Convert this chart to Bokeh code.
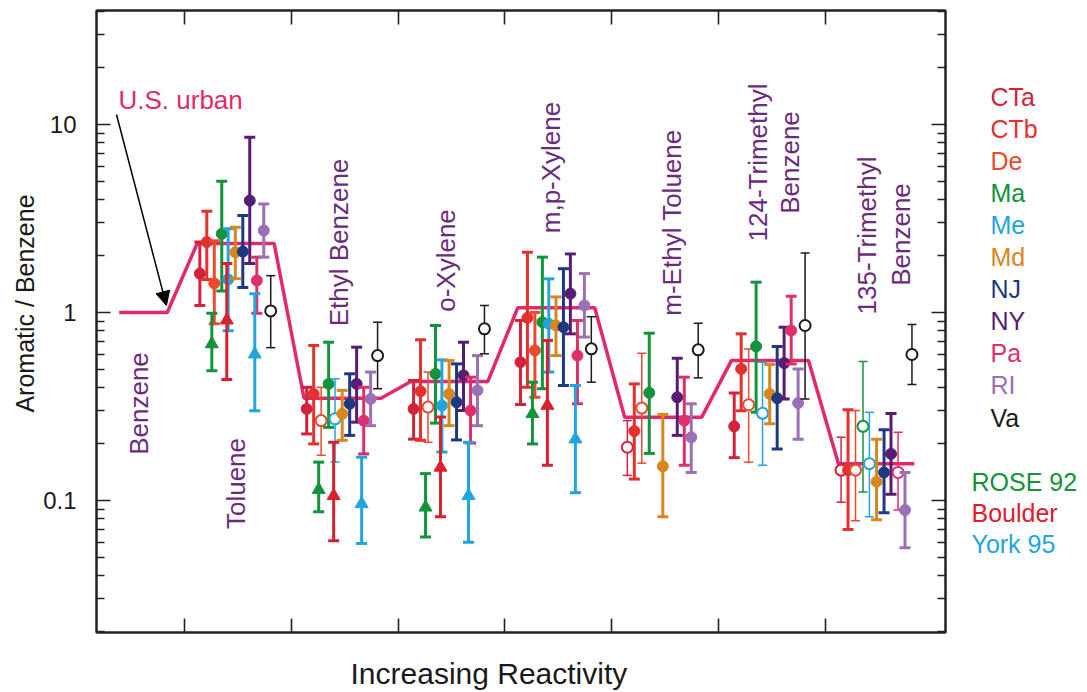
import math
from bokeh.plotting import figure
from bokeh.layouts import row, column
from bokeh.core.properties import value
from bokeh.models import (Range1d, FixedTicker, LinearAxis, LogAxis, Label,
                          Arrow, NormalHead, ColumnDataSource)
from bokeh.embed import file_html
from bokeh.resources import INLINE

# ---------------- data ----------------
groups = ["Benzene", "Toluene", "Ethyl Benzene", "o-Xylene", "m,p-Xylene",
          "m-Ethyl Toluene", "124-Trimethyl Benzene", "135-Trimethyl Benzene"]
urban = [1.0, 2.33, 0.35, 0.43, 1.06, 0.277, 0.556, 0.157]

# values for groups Toluene ... 135-Trimethyl Benzene (7 groups)
CTa_val = [1.61, 0.307, 0.307, 0.544, 0.192, 0.248, 0.145]
CTa_lo = [1.09, 0.226, 0.212, 0.324, 0.136, 0.169, 0.098]
CTa_hi = [2.37, 0.40, 0.435, 0.907, 0.266, 0.373, 0.217]
CTa_open = [0, 0, 0, 0, 1, 0, 1]

CTb_val = [2.37, 0.369, 0.381, 0.937, 0.234, 0.501, 0.145]
CTb_lo = [1.5, 0.20, 0.209, 0.40, 0.13, 0.30, 0.07]
CTb_hi = [3.46, 0.668, 0.716, 2.09, 0.417, 0.77, 0.304]
CTb_open = [0, 0, 0, 0, 0, 0, 0]

De_val = [1.43, 0.266, 0.314, 0.628, 0.31, 0.323, 0.145]
De_lo = [0.87, 0.174, 0.204, 0.354, 0.158, 0.16, 0.078]
De_hi = [2.41, 0.40, 0.482, 1.0, 0.607, 0.64, 0.301]
De_open = [0, 1, 1, 0, 1, 1, 1]

Ma_val = [2.62, 0.417, 0.472, 0.888, 0.374, 0.66, 0.248]
Ma_lo = [1.3, 0.245, 0.258, 0.393, 0.178, 0.295, 0.111]
Ma_hi = [4.99, 0.695, 0.853, 1.97, 0.776, 1.45, 0.549]
Ma_open = [0, 0, 0, 0, 0, 0, 1]

Me_val = [1.5, 0.272, 0.32, 0.87, None, 0.291, 0.157]
Me_lo = [0.80, 0.16, 0.181, 0.482, None, 0.154, 0.082]
Me_hi = [2.79, 0.444, 0.56, 1.51, None, 0.544, 0.295]
Me_open = [0, 1, 0, 0, 0, 1, 1]

Md_val = [2.09, 0.289, 0.369, 0.853, 0.152, 0.369, 0.126]
Md_lo = [1.51, 0.209, 0.25, 0.59, 0.082, 0.256, 0.079]
Md_hi = [2.84, 0.385, 0.555, 1.21, 0.287, 0.529, 0.212]
Md_open = [0, 0, 0, 0, 0, 0, 0]

NJ_val = [2.11, 0.327, 0.333, 0.835, None, 0.35, 0.141]
NJ_lo = [1.36, 0.222, 0.21, 0.409, None, 0.188, 0.086]
NJ_hi = [3.28, 0.472, 0.533, 1.71, None, 0.66, 0.238]
NJ_open = [0, 0, 0, 0, 0, 0, 0]

NY_val = [3.94, 0.417, 0.463, 1.26, 0.354, 0.538, 0.177]
NY_lo = [1.82, 0.261, 0.301, 0.77, 0.222, 0.347, 0.108]
NY_hi = [8.56, 0.654, 0.695, 2.05, 0.571, 0.835, 0.29]
NY_open = [0, 0, 0, 0, 0, 0, 0]

Pa_val = [1.48, 0.266, 0.301, 0.59, 0.266, 0.802, 0.141]
Pa_lo = [0.99, 0.177, 0.202, 0.327, 0.154, 0.533, 0.089]
Pa_hi = [1.97, 0.40, 0.453, 0.907, 0.453, 1.22, 0.231]
Pa_open = [0, 0, 0, 0, 0, 0, 1]

RI_val = [2.73, 0.347, 0.385, 1.09, 0.217, 0.33, 0.089]
RI_lo = [1.97, 0.25, 0.25, 0.74, 0.141, 0.212, 0.056]
RI_hi = [3.78, 0.482, 0.59, 1.61, 0.327, 0.501, 0.141]
RI_open = [0, 0, 0, 0, 0, 0, 0]

Va_val = [1.02, 0.59, 0.819, 0.641, 0.633, 0.853, 0.598]
Va_lo = [0.65, 0.393, 0.603, 0.426, 0.449, 0.347, 0.414]
Va_hi = [1.57, 0.888, 1.09, 0.95, 0.877, 2.07, 0.863]
Va_open = [1, 1, 1, 1, 1, 1, 1]

ROSE_val = [0.68, 0.114, 0.092, 0.289, None, None, None]
ROSE_lo = [0.49, 0.087, 0.064, 0.20, None, None, None]
ROSE_hi = [0.99, 0.16, 0.139, 0.426, None, None, None]

Boulder_val = [0.91, 0.106, 0.15, 0.32, None, None, None]
Boulder_lo = [0.44, 0.061, 0.082, 0.154, None, None, None]
Boulder_hi = [1.82, 0.204, 0.278, 0.71, None, None, None]

York_val = [0.60, 0.096, 0.106, 0.212, None, None, None]
York_lo = [0.30, 0.059, 0.06, 0.11, None, None, None]
York_hi = [1.26, 0.17, 0.204, 0.409, None, None, None]

state_names = ["CTa", "CTb", "De", "Ma", "Me", "Md", "NJ", "NY", "Pa", "RI", "Va"]
campaign_names = ["ROSE 92", "Boulder", "York 95"]
y_tick_values = [0.1, 1, 10]
y_tick_labels = ["0.1", "1", "10"]
x_title = "Increasing Reactivity"
y_title = "Aromatic / Benzene"

# ---------------- style / layout ----------------
COL = {"CTa": "#d3233c", "CTb": "#e4302f", "De": "#ea4a2e", "Ma": "#14923c",
       "Me": "#22a4df", "Md": "#d8861d", "NJ": "#1d3a80", "NY": "#561d74",
       "Pa": "#de2f6c", "RI": "#9a70b6", "Va": "#1b1b1b",
       "ROSE 92": "#14923c", "Boulder": "#d9202e", "York 95": "#22a4df"}
LABEL_PURPLE = "#6a2b7c"
URBAN_COL = "#e0296e"
FONT = "Liberation Sans"

W_TOTAL, H = 1085, 690
W_YL = 40                 # strip holding the y title
W_MAIN = 915              # main chart (page x 40 .. 955)
H_MAIN = 640
W_LG = W_TOTAL - W_YL - W_MAIN
FL, FR, FT, FB = 95, 945, 10, 632      # frame edges in page pixels

X0, X1 = 0.178, 0.178 + (FR - FL) / 107.0
Y0, Y1 = 10 ** ((312 - FB) / 188.0), 10 ** ((312 - FT) / 188.0)


def px_x(px):  # page pixel -> data x (layout helper for annotations)
    return X0 + (px - FL) / 107.0


def px_y(py):  # page pixel -> data y (log)
    return 10 ** ((312 - py) / 188.0)


state_offsets = [0.145, 0.21, 0.28, 0.35, 0.41, 0.477, 0.547, 0.612, 0.678, 0.743, 0.808]
camp_offsets = [0.257, 0.397, 0.659]

p = figure(width=W_MAIN, height=H_MAIN, y_axis_type="log",
           x_range=Range1d(X0, X1), y_range=Range1d(Y0, Y1),
           output_backend="svg", toolbar_location=None,
           min_border_left=FL - W_YL, min_border_right=W_YL + W_MAIN - FR,
           min_border_top=FT, min_border_bottom=H_MAIN - FB)
p.grid.visible = False
p.outline_line_color = "#222222"
p.outline_line_width = 2
p.background_fill_color = "white"
p.border_fill_color = "white"

xt = FixedTicker(ticks=[1, 2, 3, 4, 5, 6, 7], minor_ticks=[])
minors = [m * 10.0 ** e for e in (-2, -1, 0, 1) for m in range(2, 10) if m * 10.0 ** e < 41]
yt = FixedTicker(ticks=y_tick_values, minor_ticks=minors)


def style_axis(ax, labels=True):
    ax.axis_line_width = 2
    ax.axis_line_color = "#222222"
    ax.major_tick_line_color = "#222222"
    ax.minor_tick_line_color = "#222222"
    ax.major_tick_line_width = 1.6
    ax.minor_tick_line_width = 1.3
    ax.major_tick_in = 14
    ax.major_tick_out = 0
    ax.minor_tick_in = 8
    ax.minor_tick_out = 0
    if labels:
        ax.major_label_text_font = FONT
        ax.major_label_text_font_size = "24px"
        ax.major_label_text_color = "#1a1a1a"
        ax.major_label_standoff = 20
    else:
        ax.major_label_text_font_size = "0px"
        ax.major_label_text_color = None
        ax.major_label_standoff = 0


p.xaxis.ticker = xt
style_axis(p.xaxis[0], labels=False)
p.yaxis.ticker = yt
p.yaxis.major_label_overrides = {v: s for v, s in zip(y_tick_values, y_tick_labels)}
style_axis(p.yaxis[0], labels=True)

top = LinearAxis(ticker=xt)
style_axis(top, labels=False)
p.add_layout(top, "above")
right = LogAxis(ticker=yt)
style_axis(right, labels=False)
p.add_layout(right, "right")

# ---------------- U.S. urban line ----------------
lx, ly = [], []
a, b = 0.12, 0.16
for k, v in enumerate(urban):
    start = 0.39 if k == 0 else k + a
    end = 7.83 if k == len(urban) - 1 else k + 1 - b
    lx += [start, end]
    ly += [v, v]
p.line(lx, ly, line_color=URBAN_COL, line_width=3.5)


# ---------------- points ----------------
def draw_series(vals, los, his, opens, offset, color, marker):
    data = {True: dict(x=[], v=[], lo=[], hi=[]), False: dict(x=[], v=[], lo=[], hi=[])}
    for i, v in enumerate(vals):
        if v is None:
            continue
        o = bool(opens[i]) if opens is not None else False
        d = data[o]
        d["x"].append(i + 1 + offset)
        d["v"].append(v)
        d["lo"].append(los[i])
        d["hi"].append(his[i])
    for is_open, d in data.items():
        if not d["x"]:
            continue
        src = ColumnDataSource(d)
        lw = 1.5 if is_open else 3
        cw = 9 if is_open else 11
        p.segment(x0="x", y0="lo", x1="x", y1="hi", source=src,
                  line_color=color, line_width=lw)
        p.scatter(x="x", y="lo", source=src, marker="dash", size=cw,
                  line_color=color, line_width=lw)
        p.scatter(x="x", y="hi", source=src, marker="dash", size=cw,
                  line_color=color, line_width=lw)
        if is_open:
            p.scatter(x="x", y="v", source=src, marker=marker, size=11,
                      fill_color="white", line_color=color, line_width=2)
        else:
            p.scatter(x="x", y="v", source=src, marker=marker,
                      size=13 if marker == "triangle" else 11,
                      fill_color=color, line_color=color, line_width=1)


state_data = [
    (CTa_val, CTa_lo, CTa_hi, CTa_open), (CTb_val, CTb_lo, CTb_hi, CTb_open),
    (De_val, De_lo, De_hi, De_open), (Ma_val, Ma_lo, Ma_hi, Ma_open),
    (Me_val, Me_lo, Me_hi, Me_open), (Md_val, Md_lo, Md_hi, Md_open),
    (NJ_val, NJ_lo, NJ_hi, NJ_open), (NY_val, NY_lo, NY_hi, NY_open),
    (Pa_val, Pa_lo, Pa_hi, Pa_open), (RI_val, RI_lo, RI_hi, RI_open),
    (Va_val, Va_lo, Va_hi, Va_open)]
for name, (v, lo, hi, op), off in zip(state_names, state_data, state_offsets):
    draw_series(v, lo, hi, op, off, COL[name], "circle")

camp_data = [(ROSE_val, ROSE_lo, ROSE_hi), (Boulder_val, Boulder_lo, Boulder_hi),
             (York_val, York_lo, York_hi)]
for name, (v, lo, hi), off in zip(campaign_names, camp_data, camp_offsets):
    draw_series(v, lo, hi, None, off, COL[name], "triangle")

# ---------------- annotations inside the frame ----------------
group_label_specs = [("Benzene", 138, 403), ("Toluene", 235, 483),
                     ("Ethyl Benzene", 338, 242), ("o-Xylene", 445, 260),
                     ("m,p-Xylene", 550, 167), ("m-Ethyl Toluene", 671, 222),
                     ("124-Trimethyl", 757, 162), ("Benzene", 789, 162),
                     ("135-Trimethyl", 866, 235), ("Benzene", 900, 234)]
for txt, gx, gy in group_label_specs:
    p.add_layout(Label(x=px_x(gx), y=px_y(gy), text=txt, angle=math.pi / 2,
                       text_align="center", text_baseline="middle",
                       text_font=FONT, text_font_size="26px",
                       text_color=LABEL_PURPLE))

p.add_layout(Label(x=px_x(117), y=px_y(99), text="U.S. urban",
                   text_align="left", text_baseline="middle",
                   text_font=FONT, text_font_size="26px", text_color=URBAN_COL))
p.add_layout(Arrow(end=NormalHead(size=14, fill_color="black", line_color="black"),
                   x_start=px_x(115), y_start=px_y(114),
                   x_end=px_x(165), y_end=px_y(305),
                   line_color="black", line_width=1.5))


def side_strip(width, x_lo):
    # strip beside the chart; its frame is aligned with the chart frame,
    # data units are page pixels (y = H_MAIN - page_y)
    f = figure(width=width, height=H_MAIN, x_range=Range1d(x_lo, x_lo + width),
               y_range=Range1d(H_MAIN - FB, H_MAIN - FT), output_backend="svg",
               toolbar_location=None, x_axis_location=None, y_axis_location=None,
               min_border_left=0, min_border_right=0,
               min_border_top=FT, min_border_bottom=H_MAIN - FB)
    f.grid.visible = False
    f.outline_line_color = None
    f.border_fill_color = "white"
    f.background_fill_color = "white"
    return f


# y title strip (page x 0..40)
yl = side_strip(W_YL, 0)
yl.text(x=[24], y=[H_MAIN - 303], text=[y_title], angle=math.pi / 2,
        text_font=value(FONT), text_font_size="25px", text_color="#1a1a1a",
        text_align="center", text_baseline="middle")

# legend strip (page x 955..1085)
lg = side_strip(W_LG, W_YL + W_MAIN)
leg_names = state_names + campaign_names
leg_x = [990] * len(state_names) + [971] * len(campaign_names)
leg_y = [96 + 32.1 * i for i in range(len(state_names))] + \
        [481 + 31 * i for i in range(len(campaign_names))]
leg_src = ColumnDataSource(dict(x=leg_x, y=[H_MAIN - v for v in leg_y], t=leg_names,
                                c=[COL[n] for n in leg_names]))
lg.text(x="x", y="y", text="t", text_color="c", source=leg_src,
        text_font=value(FONT), text_font_size="25px", text_align="left",
        text_baseline="middle")

# x title strip (page x 0..1085, y 640..690)
xl = figure(width=W_TOTAL, height=H - H_MAIN, x_range=Range1d(0, W_TOTAL),
            y_range=Range1d(0, H - H_MAIN), output_backend="svg",
            toolbar_location=None, x_axis_location=None, y_axis_location=None,
            min_border_left=0, min_border_right=0, min_border_top=0, min_border_bottom=0)
xl.grid.visible = False
xl.outline_line_color = None
xl.text(x=[350], y=[H - 673], text=[x_title],
        text_font=value(FONT), text_font_size="30px", text_color="#1a1a1a",
        text_align="left", text_baseline="middle")

layout = column(row(yl, p, lg), xl)
open("out.html", "w").write(file_html(layout, INLINE))
